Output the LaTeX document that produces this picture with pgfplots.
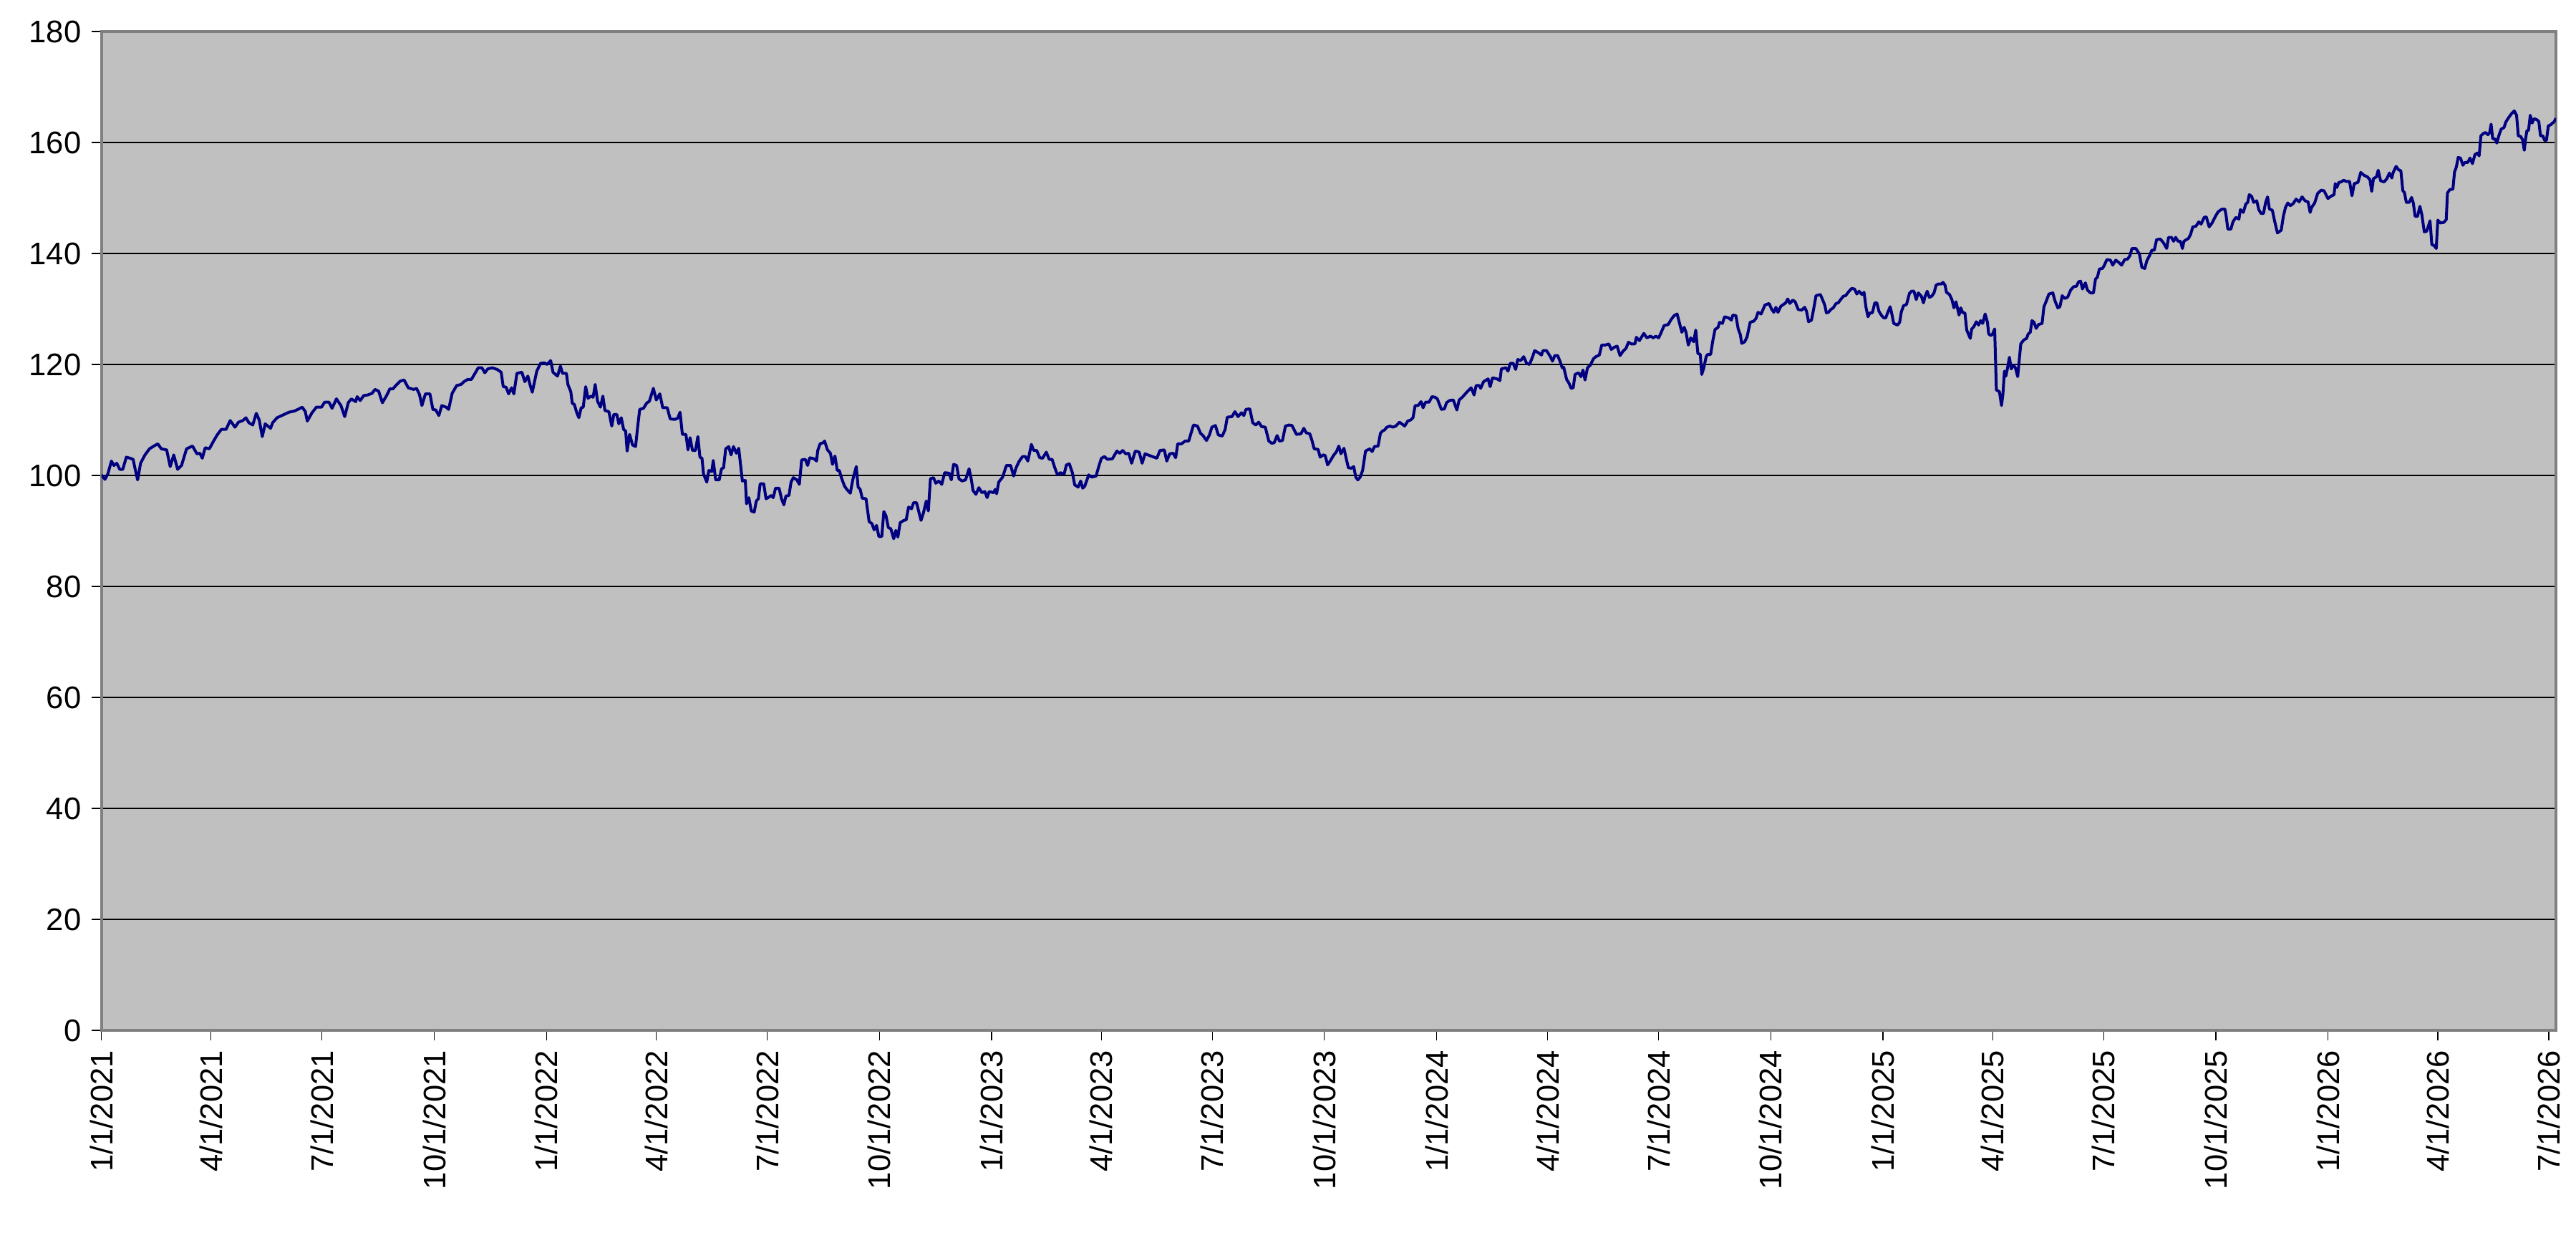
\documentclass[border=0pt]{standalone}
\usepackage{fontspec}
\setmainfont{Liberation Sans}
\usepackage{pgfplots}
\usepackage{pgfplotstable}
\pgfplotsset{compat=1.18}
\definecolor{plotbg}{RGB}{192,192,192}
\definecolor{navyline}{RGB}{0,0,128}
\definecolor{framegray}{RGB}{128,128,128}

\pgfplotstableread{
d v
0 100.1
3 99.3
5.4 100.3
8.3 102.6
10.3 101.8
12.7 102.2
15.1 101.1
17.6 101.1
20.5 103.3
23.7 103.1
26.1 102.9
27.8 101.1
29.8 99.2
32.2 102.2
35.8 103.7
39.5 104.8
43.1 105.3
46.3 105.7
49.2 104.8
53.6 104.6
56.5 101.6
59.4 103.7
62.6 101.1
65.8 101.8
69.9 104.8
74.8 105.3
78.4 103.9
80.9 104.0
82.8 103.1
85.2 105.0
88.6 104.8
91.8 106.1
95.0 107.3
98.4 108.3
102.3 108.3
105.7 109.9
109.6 108.7
112.5 109.6
116.1 109.9
118.6 110.4
121.0 109.5
124.2 109.1
127.1 111.2
129.5 110.0
132.0 107.0
134.4 109.3
138.8 108.5
140.5 109.5
144.1 110.4
149.0 110.9
153.9 111.4
158.2 111.6
161.2 111.9
164.8 112.3
167.3 111.5
168.9 109.8
172.8 111.3
176.3 112.3
180.6 112.3
183.1 113.2
186.7 113.2
189.2 112.1
192.8 113.8
196.5 112.6
199.6 110.6
202.5 113.1
205.0 113.8
208.6 113.3
209.8 114.2
212.3 113.5
215.2 114.4
218.4 114.5
222.0 114.8
224.4 115.5
227.4 115.2
230.5 113.1
234.2 114.5
236.6 115.6
239.1 115.6
241.5 116.2
245.1 117.0
248.3 117.2
251.7 115.8
256.1 115.5
258.5 115.7
260.9 114.6
262.9 112.6
265.8 114.7
269.5 114.7
271.9 111.9
274.3 111.8
276.8 110.8
279.2 112.6
282.8 112.3
284.8 111.9
287.7 114.8
291.4 116.2
295.0 116.4
297.4 116.9
300.4 117.3
303.5 117.3
305.9 118.2
309.1 119.4
312.1 119.4
314.5 118.5
316.9 119.2
320.6 119.4
324.7 119.1
327.9 118.6
329.6 116.0
332.0 115.9
334.0 114.7
336.4 115.8
338.3 114.7
340.8 118.4
344.9 118.6
347.3 116.9
349.8 117.9
351.5 116.4
353.4 115.0
357.1 118.8
360.2 120.2
363.2 120.3
365.5 120.0
368.5 120.7
370.4 118.6
374.1 117.9
376.5 119.7
378.2 118.4
381.4 118.4
382.6 116.4
385.0 115.1
386.2 113.0
387.9 112.8
389.9 111.3
391.6 110.4
393.5 112.2
395.2 112.3
397.2 116.0
399.1 113.9
401.6 114.3
403.3 114.1
405.0 116.4
406.9 113.4
409.3 112.3
411.3 114.3
413.0 111.7
416.2 111.5
418.6 108.9
420.3 111.0
422.7 111.0
424.4 109.3
426.4 110.4
428.3 108.3
430.0 108.0
431.2 104.4
433.2 107.4
435.6 105.5
438.1 105.2
439.8 108.7
441.5 111.9
444.6 112.1
447.1 113.0
449.5 113.4
452.7 115.7
455.1 113.6
458.0 114.7
460.4 112.2
464.1 112.2
466.5 110.2
470.2 110.1
472.6 110.3
474.6 111.4
476.5 107.4
479.4 107.4
481.1 104.6
482.8 106.8
484.8 104.5
487.2 104.5
489.2 107.0
490.9 103.3
492.6 103.1
493.8 100.3
496.5 98.8
498.2 100.9
500.6 100.7
501.8 102.7
503.8 99.2
506.7 99.2
508.6 101.2
510.3 101.4
512.0 104.8
514.5 105.2
516.4 103.7
518.4 105.2
520.8 104.0
522.7 104.9
525.7 99.0
528.1 99.1
529.1 94.9
531.0 96.0
533.0 93.6
535.4 93.4
537.1 95.4
538.8 95.8
540.3 98.5
543.2 98.5
545.1 95.8
546.8 96.0
549.3 96.4
551.0 96.0
552.9 97.7
555.8 97.7
557.8 95.8
559.7 94.7
561.4 96.3
563.9 96.4
565.6 98.8
567.5 99.6
570.4 99.2
572.4 98.4
574.3 102.8
577.3 102.9
579.2 101.8
580.9 103.2
584.6 103.0
586.5 102.6
587.5 104.5
589.4 105.7
591.9 105.9
593.1 106.2
595.5 104.6
597.9 104.0
599.6 102.0
601.6 103.5
603.5 100.9
605.2 100.9
606.9 99.6
609.4 98.1
611.3 97.5
614.2 96.8
616.2 99.2
617.4 100.2
619.1 101.6
620.6 97.9
622.3 97.5
624.0 95.9
627.1 95.8
629.6 91.7
632.0 91.3
633.7 90.2
635.7 91.0
637.6 89.0
640.0 89.0
641.7 93.5
643.5 92.7
645.4 90.6
647.4 90.4
649.8 88.6
651.5 90.1
653.2 88.9
655.1 91.5
658.1 91.9
660.0 92.0
662.0 94.3
664.4 94.0
666.1 95.1
668.5 95.1
670.2 93.6
672.2 91.9
674.1 93.2
676.5 95.4
678.2 93.6
679.9 99.4
682.4 99.6
684.3 98.6
686.8 99.0
689.2 98.4
691.6 100.5
695.3 100.4
697.0 99.2
698.9 102.0
701.4 101.8
703.3 99.4
705.8 99.0
708.7 99.2
711.6 101.2
713.5 99.2
714.8 97.3
717.2 96.6
719.6 97.8
722.1 96.9
724.5 97.1
726.4 96.0
728.1 97.1
731.8 96.9
733.0 97.5
734.2 96.7
735.9 98.8
739.1 99.7
742.2 101.8
745.7 101.8
748.1 99.9
750.0 101.3
752.5 102.5
755.4 103.4
757.8 103.4
759.8 102.6
762.7 105.6
764.6 104.5
767.1 104.5
769.5 103.2
771.9 103.1
774.9 104.2
777.3 102.9
779.7 102.9
781.7 101.5
784.1 100.1
786.5 100.5
789.5 100.2
791.4 101.9
793.8 102.1
796.3 100.5
798.2 98.3
801.1 97.9
803.1 99.0
804.8 97.7
806.5 98.1
809.7 100.1
812.1 99.7
815.7 99.9
818.2 101.8
820.1 103.1
822.6 103.4
825.0 102.9
829.1 103.0
832.8 104.4
835.2 104.0
837.6 104.5
840.1 103.9
842.5 104.0
844.9 102.2
847.9 104.4
851.1 104.2
853.5 102.2
855.9 103.9
859.5 103.6
863.2 103.3
865.6 103.1
868.1 104.5
871.7 104.6
873.7 102.6
876.1 103.9
879.0 104.0
881.0 103.2
882.7 105.7
885.8 105.7
888.8 106.2
891.7 106.2
893.6 107.6
895.6 109.1
898.9 108.9
901.4 107.6
903.4 107.2
906.3 106.3
908.7 107.3
910.7 108.7
913.6 109.0
916.0 107.3
919.2 107.1
921.6 108.3
923.3 110.5
927.2 110.6
929.6 111.5
932.1 110.6
935.0 111.3
936.9 110.8
938.6 111.9
941.8 112.0
944.2 109.5
946.7 109.1
949.1 109.6
951.5 108.8
954.5 108.7
957.4 106.2
959.8 105.8
961.8 105.9
964.2 107.2
966.1 106.2
968.6 106.3
971.0 108.9
973.9 109.1
976.4 109.0
980.0 107.4
983.7 107.5
986.1 108.5
988.0 107.7
991.0 107.5
992.9 106.2
994.6 104.8
997.8 104.7
999.5 103.3
1001.9 103.7
1003.6 103.6
1005.6 101.9
1008.0 102.7
1010.4 103.6
1012.9 104.3
1014.8 105.3
1016.5 103.9
1019.0 104.9
1020.6 103.3
1022.6 101.4
1025.0 101.3
1027.0 101.6
1028.7 99.7
1030.4 99.2
1032.3 99.7
1034.3 100.9
1036.7 104.4
1040.1 104.8
1042.1 104.3
1044.0 105.2
1047.0 105.3
1048.9 107.6
1050.6 108.0
1052.3 108.2
1054.2 108.7
1056.7 108.9
1059.1 108.7
1061.5 108.9
1064.5 109.6
1066.4 109.3
1068.8 108.9
1071.3 109.8
1073.7 110.0
1075.6 110.4
1077.4 112.6
1079.8 112.6
1082.2 113.3
1083.9 112.2
1085.9 113.2
1088.8 113.2
1091.2 114.2
1093.7 114.1
1095.6 113.8
1098.9 111.9
1101.4 112.0
1103.1 113.1
1105.5 113.5
1108.7 113.6
1111.6 111.8
1113.5 113.6
1116.5 114.2
1120.1 115.1
1123.3 115.8
1125.7 114.5
1127.4 116.2
1129.9 116.2
1131.1 115.7
1133.5 116.9
1137.2 117.4
1138.9 116.0
1140.8 117.6
1144.5 117.4
1146.9 117.1
1148.1 119.2
1151.8 119.4
1153.5 118.8
1155.4 120.2
1157.8 120.2
1159.8 119.1
1161.5 120.9
1163.9 120.7
1166.4 121.4
1168.8 120.2
1171.2 120.0
1173.7 121.4
1175.4 122.5
1178.5 122.1
1181.0 121.7
1182.2 122.5
1185.1 122.5
1188.3 121.4
1190.0 120.6
1191.9 121.6
1194.3 121.6
1196.3 120.5
1198.0 119.4
1199.2 119.5
1201.6 117.3
1203.6 116.6
1205.3 115.7
1207.0 115.8
1208.5 118.2
1211.4 118.5
1213.3 117.8
1215.0 119.0
1216.7 117.2
1218.7 119.4
1221.1 119.9
1223.5 121.0
1225.5 121.4
1228.4 121.7
1230.4 123.5
1233.3 123.5
1236.2 123.7
1238.2 122.7
1240.6 123.1
1243.0 123.3
1245.4 121.6
1247.9 122.4
1250.3 122.9
1252.3 124.0
1254.7 123.7
1257.6 123.7
1258.8 124.9
1261.3 124.3
1264.9 125.6
1267.4 124.8
1270.3 125.1
1272.7 124.8
1274.7 125.1
1277.1 124.8
1279.0 125.7
1281.5 127.0
1284.9 127.2
1287.3 128.1
1289.7 128.8
1292.2 129.1
1294.1 127.5
1296.1 125.8
1298.0 126.7
1299.5 125.8
1301.4 123.5
1303.4 124.8
1305.8 124.1
1307.5 126.2
1309.2 122.0
1311.2 121.8
1312.4 118.2
1314.1 119.4
1316.0 121.4
1317.2 121.8
1319.7 121.8
1321.4 124.2
1323.3 126.3
1325.8 126.7
1327.0 127.6
1329.4 127.4
1331.1 128.6
1334.3 128.4
1336.7 128.0
1337.9 128.9
1340.4 128.8
1342.3 126.4
1344.0 125.4
1345.2 123.8
1347.7 124.1
1349.6 125.0
1352.1 127.6
1355.0 127.8
1356.9 128.3
1358.6 129.4
1361.1 129.1
1364.2 130.7
1367.6 131.0
1369.6 130.0
1371.5 129.4
1373.2 130.3
1374.9 129.4
1377.3 130.5
1379.3 130.8
1381.2 131.1
1382.9 131.8
1384.6 131.0
1387.1 131.6
1389.0 131.3
1391.5 129.9
1394.4 129.8
1396.8 130.3
1398.3 129.6
1400.0 127.7
1402.4 128.0
1404.1 129.9
1406.1 132.4
1409.7 132.6
1412.2 131.3
1413.4 130.6
1414.6 129.3
1416.3 129.4
1418.2 129.9
1420.2 130.2
1422.6 131.0
1424.3 131.1
1426.0 131.6
1428.5 132.3
1430.4 132.4
1432.8 133.1
1435.3 133.7
1437.7 133.6
1439.6 132.7
1441.4 133.2
1443.8 132.6
1445.5 133.0
1447.0 130.4
1448.7 128.6
1450.4 129.3
1452.3 129.3
1454.3 131.1
1456.0 131.1
1457.7 129.6
1459.6 128.9
1461.6 128.4
1463.3 128.4
1465.0 129.4
1466.9 130.4
1468.1 129.3
1469.8 127.4
1473.0 127.1
1474.7 127.6
1476.1 129.5
1477.9 130.6
1480.3 130.8
1482.7 132.8
1484.4 133.2
1486.4 133.2
1488.3 131.7
1490.0 132.9
1492.5 132.3
1494.2 131.1
1495.6 132.3
1497.3 133.2
1499.0 132.1
1501.0 132.3
1502.9 132.9
1504.6 134.3
1506.3 134.5
1508.8 134.5
1510.2 134.8
1511.9 134.3
1513.1 133.0
1515.6 132.6
1517.5 131.7
1519.2 130.2
1520.9 131.3
1523.4 128.9
1524.8 130.2
1526.5 129.3
1528.2 129.3
1529.7 126.2
1531.4 125.3
1532.6 124.7
1533.8 126.4
1535.5 126.8
1537.5 127.7
1539.4 127.1
1541.1 127.9
1542.8 127.4
1544.8 129.1
1546.7 127.6
1547.7 125.5
1549.6 125.2
1550.9 125.5
1552.6 126.4
1554.0 115.4
1556.5 115.1
1558.2 112.6
1559.4 114.7
1560.6 118.8
1561.8 117.9
1563.0 119.2
1564.7 121.3
1566.2 119.2
1567.9 119.9
1569.6 119.4
1571.5 117.8
1574.0 123.7
1576.4 124.4
1578.8 124.7
1580.1 125.5
1581.8 125.8
1583.2 127.9
1584.9 127.6
1586.6 126.5
1588.6 127.2
1591.5 127.4
1593.0 130.4
1594.7 131.3
1597.1 132.7
1600.3 132.9
1602.0 131.5
1604.4 130.2
1606.1 130.4
1608.0 132.4
1610.0 131.9
1612.4 132.1
1614.9 133.4
1617.3 134.0
1619.7 134.1
1621.4 134.9
1623.1 135.0
1624.6 133.6
1627.0 134.7
1628.7 133.4
1631.2 132.9
1633.6 132.9
1635.3 135.4
1636.8 135.7
1638.5 137.2
1641.0 137.3
1642.6 137.9
1644.6 138.9
1647.5 138.8
1649.4 137.9
1651.9 138.8
1654.3 138.4
1656.7 137.9
1659.2 138.9
1661.6 139.0
1663.5 139.6
1665.2 140.9
1668.4 140.9
1671.3 139.9
1673.3 137.5
1675.7 137.3
1677.4 138.7
1679.8 139.7
1681.5 140.6
1683.5 140.6
1685.4 142.5
1688.4 142.6
1690.8 142.0
1693.7 140.9
1695.2 142.9
1697.6 142.9
1699.3 142.2
1701.0 142.9
1703.0 142.2
1704.9 142.2
1706.6 140.9
1707.8 142.2
1709.8 142.5
1711.5 142.7
1713.2 143.4
1715.1 144.8
1717.6 144.9
1720.0 145.7
1721.9 145.3
1724.4 146.5
1726.1 146.6
1728.5 144.8
1730.9 145.5
1733.4 146.6
1735.8 147.5
1739.0 148.0
1741.4 148.0
1742.4 146.8
1743.8 144.4
1746.3 144.4
1748.0 145.7
1750.4 146.5
1752.9 146.2
1754.1 147.9
1756.5 147.4
1758.5 148.9
1760.1 149.2
1761.4 150.6
1763.3 150.3
1765.0 149.2
1767.5 149.5
1769.2 147.9
1771.1 147.2
1773.0 147.2
1774.8 149.2
1776.4 150.2
1777.9 148.0
1780.3 147.8
1782.1 145.9
1783.3 144.8
1784.5 143.7
1787.6 144.2
1789.4 146.8
1791.1 148.3
1793.0 149.1
1795.0 148.6
1797.4 149.0
1799.8 149.8
1802.3 149.3
1804.7 150.2
1807.1 149.5
1809.6 149.3
1811.3 147.4
1812.5 148.3
1815.0 149.1
1817.4 150.8
1820.3 151.4
1822.7 151.3
1825.9 149.9
1828.3 150.3
1830.9 150.6
1831.9 152.6
1833.3 151.9
1834.8 152.8
1836.8 152.9
1838.7 153.2
1840.7 153.0
1843.6 153.0
1845.6 150.4
1847.5 152.6
1850.5 152.8
1852.8 154.6
1855.4 154.1
1858.3 153.8
1860.3 153.3
1861.8 151.2
1863.2 153.5
1865.7 153.8
1867.1 155.0
1869.1 153.1
1872.0 152.9
1874.3 153.5
1876.3 154.5
1878.3 153.6
1879.4 154.6
1881.8 155.7
1883.7 155.1
1885.7 154.9
1887.3 151.3
1888.6 151.0
1890.2 149.2
1892.5 149.2
1894.5 150.1
1895.9 149.1
1897.4 146.7
1899.4 146.7
1901.3 148.5
1902.9 147.0
1904.9 143.9
1906.8 144.0
1908.2 144.9
1909.6 145.9
1911.1 141.6
1913.1 141.4
1914.7 140.9
1916.0 146.0
1918.0 145.5
1920.9 145.6
1922.9 146.1
1923.9 150.9
1925.8 151.5
1928.4 151.6
1929.7 154.7
1931.1 155.5
1932.7 157.3
1934.6 157.2
1936.6 155.9
1938.1 156.4
1940.5 156.4
1942.4 157.2
1944.4 156.2
1946.4 157.8
1948.3 158.1
1949.9 157.6
1951.3 161.2
1953.2 161.6
1955.2 161.8
1957.1 161.4
1958.5 161.8
1959.7 163.3
1961.0 160.7
1963.0 160.6
1964.4 159.9
1966.0 161.2
1967.9 162.4
1970.3 162.7
1971.8 163.7
1973.8 164.4
1976.1 165.1
1978.7 165.7
1980.6 164.9
1982.0 161.2
1983.9 161.1
1985.5 160.5
1986.9 158.6
1987.9 160.5
1989.0 162.1
1990.4 162.2
1991.8 164.9
1993.3 163.5
1994.9 164.3
1997.2 164.1
1998.8 163.8
2000.2 161.2
2002.1 161.2
2003.5 160.4
2005.1 160.4
2006.6 163.0
2008.6 163.2
2010.0 163.5
2011.3 163.7
2012.9 164.4
}\series

\begin{document}
\begin{tikzpicture}
\begin{axis}[
  name=ax,
  scale only axis,
  width=857.1pt, height=348.75pt,
  xmin=0, xmax=2012.9, ymin=0, ymax=180,
  axis background/.style={fill=plotbg},
  axis line style={draw=framegray, line width=1pt},
  ytick={0,20,...,180},
  xtick={0,90,181,273,365,455,546,638,730,820,911,1003,1095,1186,1277,1369,1461,1551,1642,1734,1826,1916,2007},
  xticklabels={1/1/2021,4/1/2021,7/1/2021,10/1/2021,1/1/2022,4/1/2022,7/1/2022,10/1/2022,1/1/2023,4/1/2023,7/1/2023,10/1/2023,1/1/2024,4/1/2024,7/1/2024,10/1/2024,1/1/2025,4/1/2025,7/1/2025,10/1/2025,1/1/2026,4/1/2026,7/1/2026},
  tick align=outside,
  major tick length=3.5pt,
  tick style={black, line width=0.3pt},
  xtick pos=left, ytick pos=left,
  ymajorgrids,
  grid style={black, line width=0.3pt},
  tick label style={font=\fontsize{10.9}{13}\selectfont},
  xticklabel style={rotate=90, anchor=east},
  yticklabel style={anchor=east},
  /pgf/number format/assume math mode=true,
]
\addplot[navyline, line width=1pt, line join=round, mark=none] table[x=d,y=v]{\series};
\end{axis}
\pgfresetboundingbox
\path ([shift={(-35.375pt,-72.25pt)}]ax.south west) rectangle ([shift={(7pt,11pt)}]ax.north east);
\end{tikzpicture}
\end{document}
